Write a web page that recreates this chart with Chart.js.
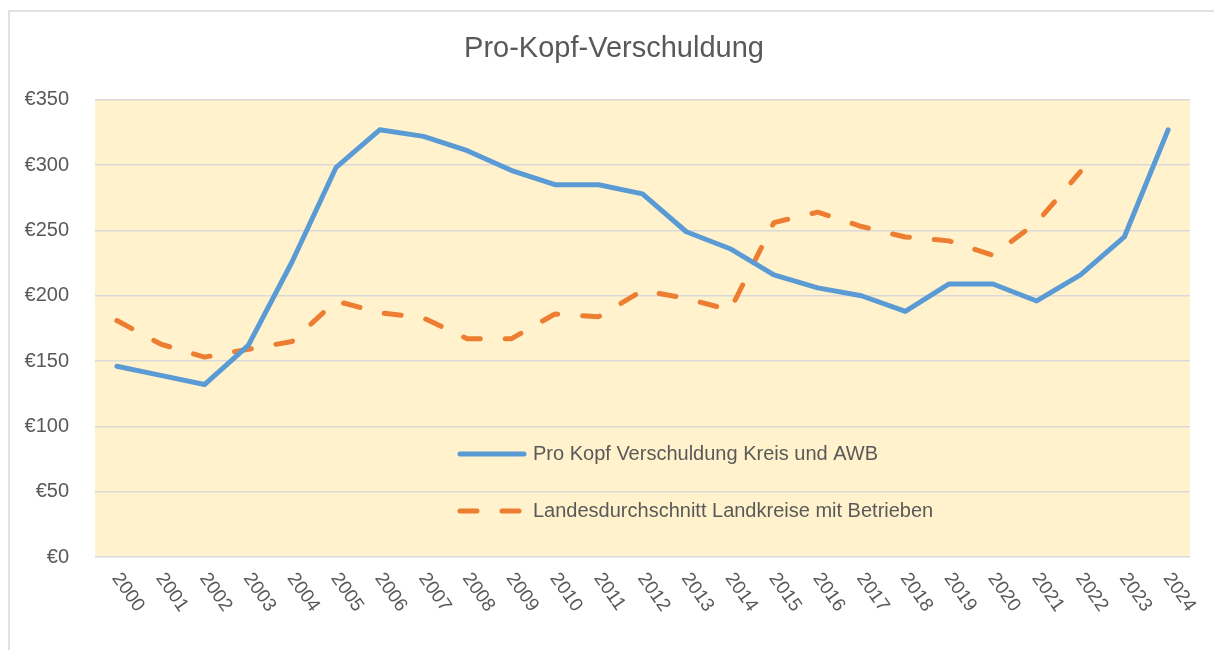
<!DOCTYPE html>
<html>
<head>
<meta charset="utf-8">
<title>Pro-Kopf-Verschuldung</title>
<script src="https://cdn.jsdelivr.net/npm/chart.js@4/dist/chart.umd.min.js"></script>
<style>
  html, body { margin: 0; padding: 0; background: #fff; }
  #wrap { width: 1214px; height: 650px; }
</style>
</head>
<body>
<div id="wrap"><canvas id="debtChart" width="1214" height="650"></canvas></div>
<script>
// --- Data ---
const years = ['2000','2001','2002','2003','2004','2005','2006','2007','2008','2009','2010','2011','2012',
  '2013','2014','2015','2016','2017','2018','2019','2020','2021','2022','2023','2024'];
const kreisAwb = [146, 139, 132, 162, 226, 298, 327, 322, 311, 296, 285, 285, 278,
  249, 236, 216, 206, 200, 188, 209, 209, 196, 216, 245, 327];
const landesschnitt = [181, 163, 153, 159, 165, 196, 187, 183, 167, 167, 186, 184, 204,
  198, 189, 256, 264, 253, 245, 242, 231, 256, 295, null, null];
const seriesNames = ['Pro Kopf Verschuldung Kreis und AWB', 'Landesdurchschnitt Landkreise mit Betrieben'];
const yTicks = [0, 50, 100, 150, 200, 250, 300, 350];

const textColor = '#595959';
const fontFamily = '"Liberation Sans", Arial, sans-serif';

// frame + plot background
const backdrop = {
  id: 'backdrop',
  beforeDraw(chart) {
    const { ctx, chartArea } = chart;
    ctx.save();
    ctx.fillStyle = '#fff';
    ctx.fillRect(0, 0, chart.width, chart.height);
    ctx.strokeStyle = '#D9D9D9';
    ctx.lineWidth = 1.5;
    ctx.strokeRect(9, 11, chart.width + 20, chart.height + 20);
    ctx.fillStyle = '#FFF2CC';
    ctx.fillRect(chartArea.left, chartArea.top, chartArea.right - chartArea.left, chartArea.bottom - chartArea.top);
    ctx.restore();
  }
};

// x labels rotated clockwise, like the spreadsheet
const slantLabels = {
  id: 'slantLabels',
  afterDraw(chart) {
    const { ctx } = chart;
    const x = chart.scales.x;
    ctx.save();
    ctx.font = '19px ' + fontFamily;
    ctx.fillStyle = textColor;
    ctx.textAlign = 'left';
    ctx.textBaseline = 'middle';
    years.forEach((lab, i) => {
      ctx.save();
      ctx.translate(x.getPixelForTick(i) - 1, x.top + 18);
      ctx.rotate(55 * Math.PI / 180);
      ctx.fillText(lab, 0, 0);
      ctx.restore();
    });
    ctx.restore();
  }
};

// legend sits inside the plot area
const innerLegend = {
  id: 'innerLegend',
  afterDraw(chart) {
    const { ctx } = chart;
    const rows = [454, 511];
    ctx.save();
    chart.data.datasets.forEach((ds, i) => {
      const y = rows[i];
      ctx.strokeStyle = ds.borderColor;
      ctx.lineWidth = ds.borderWidth;
      ctx.lineCap = 'round';
      ctx.setLineDash(ds.borderDash || []);
      ctx.beginPath();
      ctx.moveTo(460, y);
      ctx.lineTo(524, y);
      ctx.stroke();
      ctx.setLineDash([]);
      ctx.font = '20px ' + fontFamily;
      ctx.fillStyle = textColor;
      ctx.textAlign = 'left';
      ctx.textBaseline = 'middle';
      ctx.fillText(ds.label, 533, y);
    });
    ctx.restore();
  }
};

document.addEventListener('DOMContentLoaded', function() {
  if (!window.Chart) return;
  const ctx = document.getElementById('debtChart');
  new Chart(ctx, {
    type: 'line',
    data: {
      labels: years,
      datasets: [{
        label: seriesNames[0],
        data: kreisAwb,
        borderColor: '#5B9BD5',
        borderWidth: 5,
        borderCapStyle: 'round',
        borderJoinStyle: 'round',
        pointRadius: 0,
        tension: 0,
        fill: false
      }, {
        label: seriesNames[1],
        data: landesschnitt,
        borderColor: '#ED7D31',
        borderWidth: 5,
        borderDash: [17, 25],
        borderCapStyle: 'round',
        borderJoinStyle: 'round',
        pointRadius: 0,
        tension: 0,
        fill: false
      }]
    },
    options: {
      responsive: false,
      animation: false,
      layout: { padding: { left: 14, right: 0, top: 0, bottom: 0 } },
      plugins: {
        legend: { display: false },
        tooltip: { enabled: false },
        title: {
          display: true,
          text: 'Pro-Kopf-Verschuldung',
          color: textColor,
          font: { family: fontFamily, size: 29, weight: 'normal' },
          padding: { top: 32, bottom: 33 }
        }
      },
      scales: {
        x: {
          offset: true,
          grid: { display: false },
          border: { display: false },
          ticks: { display: false },
          afterFit: s => { s.height = 93; }
        },
        y: {
          min: 0,
          max: 350,
          afterBuildTicks: s => { s.ticks = yTicks.map(v => ({ value: v })); },
          grid: { color: '#D9D9D9', lineWidth: 1.5, drawTicks: false },
          border: { display: false },
          ticks: {
            color: textColor,
            padding: 26,
            font: { family: fontFamily, size: 20 },
            callback: v => '€' + v
          },
          afterFit: s => { s.width = 81; }
        },
        // empty strip on the right so the plot ends where the original does
        yRight: {
          position: 'right',
          grid: { display: false },
          border: { display: false },
          ticks: { display: false },
          afterFit: s => { s.width = 24; }
        }
      }
    },
    plugins: [backdrop, slantLabels, innerLegend]
  });
});
</script>
</body>
</html>
